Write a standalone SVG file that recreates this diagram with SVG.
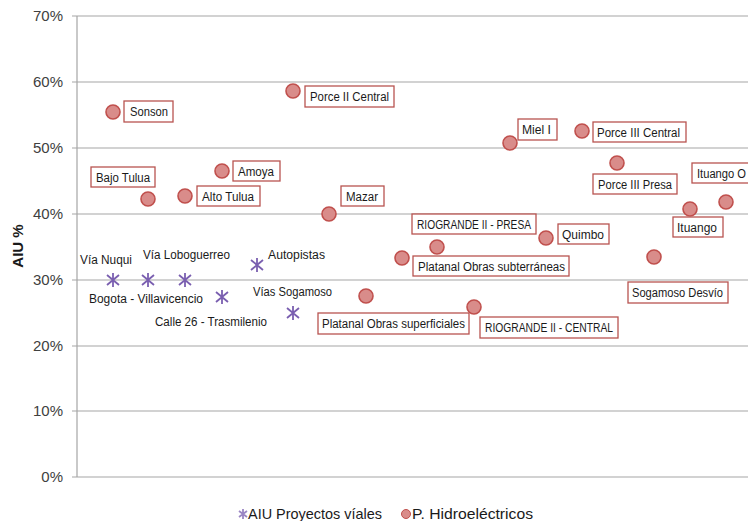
<svg xmlns="http://www.w3.org/2000/svg" width="748" height="521" viewBox="0 0 748 521">
<defs>
<style>
.grid{stroke:#a6a6a6;stroke-width:1.2;fill:none}
.tick{font-family:"Liberation Sans",Arial,sans-serif;font-size:15px;fill:#404040;text-anchor:end}
.lbl{font-family:"Liberation Sans",Arial,sans-serif;font-size:12.5px;fill:#1a1a1a}
.box{fill:#fff;stroke:#b85450;stroke-width:1.3}
.dot{fill:#d98c8a;stroke:#c0504d;stroke-width:1.6}
.star{stroke:#7a5fb0;stroke-width:1.8;fill:none}
.leg{font-family:"Liberation Sans",Arial,sans-serif;font-size:14.5px;fill:#1a1a1a}
</style>
<g id="ast"><path class="star" d="M0,-7V7M-6,-5L6,5M-6,5L6,-5"/></g>
</defs>
<rect width="748" height="521" fill="#fff"/>
<g id="axes">
<path class="grid" d="M72,16H748M72,82H748M72,148H748M72,214H748M72,280H748M72,346H748M72,411H748M72,477H748M77,16V477"/>
<text class="tick" x="63" y="21">70%</text>
<text class="tick" x="63" y="87">60%</text>
<text class="tick" x="63" y="153">50%</text>
<text class="tick" x="63" y="219">40%</text>
<text class="tick" x="63" y="285">30%</text>
<text class="tick" x="63" y="351">20%</text>
<text class="tick" x="63" y="416">10%</text>
<text class="tick" x="63" y="482">0%</text>
<text transform="translate(23,246) rotate(-90)" text-anchor="middle" font-family="Liberation Sans,Arial,sans-serif" font-size="15" font-weight="bold" fill="#1a1a1a">AIU %</text>
</g>
<g id="connectors"></g>
<g id="roads">
<use href="#ast" x="113" y="280"/>
<use href="#ast" x="148" y="280"/>
<use href="#ast" x="185" y="280"/>
<use href="#ast" x="222" y="297"/>
<use href="#ast" x="257" y="265"/>
<use href="#ast" x="293" y="313"/>
<text class="lbl" x="80" y="264" textLength="52" lengthAdjust="spacingAndGlyphs">Vía Nuqui</text>
<text class="lbl" x="143" y="259" textLength="87" lengthAdjust="spacingAndGlyphs">Vía Loboguerreo</text>
<text class="lbl" x="268" y="259" textLength="57" lengthAdjust="spacingAndGlyphs">Autopistas</text>
<text class="lbl" x="89" y="303" textLength="114" lengthAdjust="spacingAndGlyphs">Bogota  - Villavicencio</text>
<text class="lbl" x="253" y="296" textLength="79" lengthAdjust="spacingAndGlyphs">Vías Sogamoso</text>
<text class="lbl" x="155" y="326" textLength="112" lengthAdjust="spacingAndGlyphs">Calle 26 - Trasmilenio</text>
</g>
<g id="sonson"><circle class="dot" cx="113" cy="112" r="7"/><rect class="box" x="124" y="101" width="49" height="21"/><text class="lbl" x="130" y="116" textLength="38" lengthAdjust="spacingAndGlyphs">Sonson</text></g>
<g id="porce2"><circle class="dot" cx="293" cy="91" r="7"/><rect class="box" x="305" y="86" width="89" height="21"/><text class="lbl" x="310" y="101" textLength="79" lengthAdjust="spacingAndGlyphs">Porce II Central</text></g>
<g id="bajotulua"><circle class="dot" cx="148" cy="199" r="7"/><rect class="box" x="91" y="167" width="64" height="20"/><text class="lbl" x="96" y="182" textLength="54" lengthAdjust="spacingAndGlyphs">Bajo Tulua</text></g>
<g id="altotulua"><circle class="dot" cx="185" cy="196" r="7"/><rect class="box" x="197" y="186" width="63" height="20"/><text class="lbl" x="202" y="201" textLength="52" lengthAdjust="spacingAndGlyphs">Alto Tulua</text></g>
<g id="amoya"><circle class="dot" cx="222" cy="171" r="7"/><rect class="box" x="233" y="161" width="47" height="20"/><text class="lbl" x="238" y="176" textLength="36" lengthAdjust="spacingAndGlyphs">Amoya</text></g>
<g id="mazar"><circle class="dot" cx="329" cy="214" r="7"/><rect class="box" x="341" y="186" width="43" height="20"/><text class="lbl" x="346" y="201" textLength="32" lengthAdjust="spacingAndGlyphs">Mazar</text></g>
<g id="miel"><circle class="dot" cx="510" cy="143" r="7"/><rect class="box" x="518" y="119" width="39" height="21"/><text class="lbl" x="522" y="134" textLength="29" lengthAdjust="spacingAndGlyphs">Miel I</text></g>
<g id="porce3c"><circle class="dot" cx="582" cy="131" r="7"/><rect class="box" x="593" y="122" width="93" height="20"/><text class="lbl" x="597" y="137" textLength="83" lengthAdjust="spacingAndGlyphs">Porce III Central</text></g>
<g id="porce3p"><circle class="dot" cx="617" cy="163" r="7"/><rect class="box" x="593" y="174" width="84" height="20"/><text class="lbl" x="598" y="189" textLength="74" lengthAdjust="spacingAndGlyphs">Porce III Presa</text></g>
<g id="ituangoO"><circle class="dot" cx="726" cy="202" r="7"/><rect class="box" x="692" y="163" width="70" height="20"/><text class="lbl" x="697" y="178" textLength="49" lengthAdjust="spacingAndGlyphs">Ituango O</text></g>
<g id="ituango"><circle class="dot" cx="690" cy="209" r="7"/><rect class="box" x="673" y="217" width="50" height="20"/><text class="lbl" x="677" y="232" textLength="40" lengthAdjust="spacingAndGlyphs">Ituango</text></g>
<g id="quimbo"><circle class="dot" cx="546" cy="238" r="7"/><rect class="box" x="558" y="224" width="51" height="20"/><text class="lbl" x="562" y="239" textLength="42" lengthAdjust="spacingAndGlyphs">Quimbo</text></g>
<g id="rioPresa"><circle class="dot" cx="437" cy="247" r="7"/><rect class="box" x="412" y="214" width="124" height="20"/><text class="lbl" x="417" y="229" textLength="114" lengthAdjust="spacingAndGlyphs">RIOGRANDE II - PRESA</text></g>
<g id="platSub"><circle class="dot" cx="402" cy="258" r="7"/><rect class="box" x="413" y="256" width="156" height="20"/><text class="lbl" x="418" y="271" textLength="147" lengthAdjust="spacingAndGlyphs">Platanal Obras subterráneas</text></g>
<g id="sogDesvio"><circle class="dot" cx="654" cy="257" r="7"/><rect class="box" x="628" y="282" width="100" height="21"/><text class="lbl" x="632" y="297" textLength="91" lengthAdjust="spacingAndGlyphs">Sogamoso Desvío</text></g>
<g id="platSup"><circle class="dot" cx="366" cy="296" r="7"/><rect class="box" x="318" y="313" width="151" height="21"/><text class="lbl" x="322" y="328" textLength="143" lengthAdjust="spacingAndGlyphs">Platanal Obras superficiales</text></g>
<g id="rioCentral"><circle class="dot" cx="474" cy="307" r="7"/><rect class="box" x="480" y="317" width="138" height="21"/><text class="lbl" x="485" y="332" textLength="128" lengthAdjust="spacingAndGlyphs">RIOGRANDE II - CENTRAL</text></g>
<g id="legend">
<path class="star" d="M243,509V519M239,511L247,517M239,517L247,511" stroke-width="1.2" style="stroke:#9b86c4"/>
<text class="leg" x="248" y="519" textLength="134" lengthAdjust="spacingAndGlyphs">AIU Proyectos víales</text>
<circle cx="406" cy="514" r="4.5" fill="#d98c8a" stroke="#c0504d" stroke-width="1"/>
<text class="leg" x="412" y="519" textLength="121" lengthAdjust="spacingAndGlyphs">P. Hidroeléctricos</text>
</g>
</svg>
